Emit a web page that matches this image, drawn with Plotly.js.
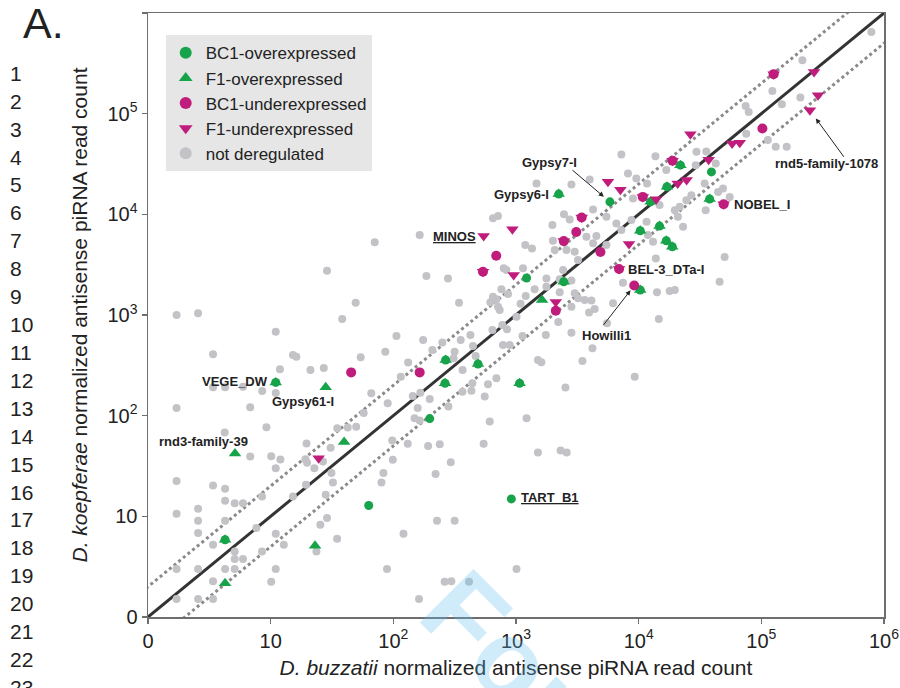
<!DOCTYPE html>
<html><head><meta charset="utf-8">
<script src="https://cdn.plot.ly/plotly-3.0.1.min.js"></script>
<style>html,body{margin:0;padding:0;background:#fff}#chart{width:900px;height:688px}</style>
</head><body><div id="chart"></div>
<script>
// ---- data (normalized antisense piRNA read counts; axis "0" = 1) ----
const grayX = [789000,216000,123000,208000,147000,74500,78900,75300,113000,131000,161000,35600,29600,42500,29200,34500,48700,44400,55200,35200,7230,13700,8180,9570,11700,16800,8990,14800,19700,21600,24500,26900,20900,23000,5460,6580,8730,11600,7230,11900,13100,5460,13800,50200,45700,7450,14100,17900,19700,14600,6180,5520,3940,4380,3200,3630,4120,3010,4200,3480,9290,3990,2830,4250,2740,2460,1980,1470,649,713,164,3750,4520,4250,2000,1190,1350,2070,2580,3010,3200,2420,186,279,794,836,1140,1770,2270,2830,343,760,861,1200,1420,1770,2270,649,692,618,713,1090,2830,736,2210,1010,774,845,106,175,425,643,1130,1750,2830,251,354,446,783,889,86,208,316,310,469,132,115,367,441,366,433,591,692,1510,1610,2530,90,144,166,198,158,281,556,149,164,611,1220,98,131,192,239,545,99,294,83,80,221,1510,2310,2590,227,316,297,414,1010,70.5,28.8,49.3,1.71,2.56,38.3,11.0,3.39,15.2,16.2,54.2,11.9,21.1,27.1,3.39,4.25,5.95,8.53,11.0,66.1,1.71,6.81,57.3,4.22,9.23,19.6,30.8,34.9,42.5,49.8,6.81,10.1,12.0,19.2,19.8,26.7,22.7,11.0,1.71,1.71,1.71,1.71,3.39,4.25,4.25,2.56,2.56,2.56,2.56,2.56,3.39,3.39,3.39,4.25,4.25,5.09,5.95,5.09,5.09,5.95,5.09,8.50,7.65,8.50,15.2,11.0,11.0,10.1,12.8,23.6,25.4,28.8,28.1,31.3,32.2,34.8,88.8,121,162,262,19.4];
const grayY = [649000,340000,168000,145000,124000,119000,104000,63200,54600,46800,46800,42000,41800,32000,30800,20300,18100,16700,14900,11000,39400,37800,25500,22700,20300,27500,14400,12400,11000,11900,13800,15500,9460,7520,9460,8130,8770,8430,6980,6220,5340,4950,3640,3770,2140,2090,1680,1730,1770,912,1310,828,1060,1150,1470,1410,1390,1640,468,350,244,22200,19800,11200,8910,10000,7820,20300,9120,9600,6220,5980,6080,5150,5460,4950,4590,4420,4420,4250,3520,2800,2440,2310,2910,2800,2910,2310,2260,2200,1320,1800,1620,1540,1800,1910,1680,1520,1430,1340,1210,1290,1210,1120,853,962,796,721,619,565,634,710,619,634,667,533,565,492,504,504,432,450,432,372,392,338,243,284,210,173,177,205,235,357,340,190,133,157,169,146,119,123,155,94.4,89.3,87.3,94.4,56.6,52.5,50.1,52.1,52.5,36.4,34.4,26.9,21.7,26.4,43.0,45.0,43.0,9.03,9.03,2.26,2.24,2.99,5270,2750,1320,1000,1040,912,682,407,401,385,380,289,284,298,192,192,194,176,168,167,119,121,106,67.9,76.9,52.8,47.9,74.8,76.5,77.4,39.3,39.6,36.6,37.0,34.0,35.0,30.1,30.1,22.5,10.6,2.99,1.51,20.2,18.8,14.3,11.9,9.03,6.82,2.99,1.51,5.22,2.26,1.51,9.03,2.99,13.5,13.5,4.48,3.77,3.77,2.99,15.7,7.64,4.48,15.7,6.71,2.99,2.24,5.22,4.48,8.24,9.60,16.4,26.9,21.7,5.98,2.99,6.71,1.51,2.24,20.6];

const bc1OverX = [11.0,4.25,2230,21900,17000,12500,37900,10300,14800,16800,18800,2450,10300,267,490,264,1070,5830,39200,1220,198,63.0,917];
const bc1OverY = [214,5.85,15900,30800,18800,13300,14200,6870,7640,5460,4760,2140,1770,357,326,210,210,13300,26400,2330,93.5,12.8,14.9];

const f1OverX = [11.0,4.25,2230,21900,17000,12500,37900,10300,14800,16800,18800,2450,10300,267,490,264,1070,28.1,5.12,39.7,4.25,23.0,1630];
const f1OverY = [214,5.85,15900,30800,18800,13300,14200,6870,7640,5460,4760,2140,1770,357,326,210,210,192,42.0,54.9,2.17,5.10,1410];

const bc1UnderX = [126000,18900,10800,49300,6920,538,2450,3430,102000,3100,690,4880,9200,45.3,164,2110];
const bc1UnderY = [247000,34100,14900,12600,2860,2690,5420,9290,71300,6670,3880,4220,1960,269,269,1100];

const f1UnderX = [126000,18900,10800,49300,6920,538,2450,3430,935,13900,37200,5620,7100,20800,24600,26400,57800,66700,269000,290000,249000,545,958,8340,24.6,2110];
const f1UnderY = [247000,34100,14900,12600,2860,2690,5420,9290,7100,14100,34900,21100,17500,20300,21900,62500,50400,51300,260000,152000,108000,6080,2490,5070,37.7,1350];

const seriesNames = ['BC1-overexpressed','F1-overexpressed','BC1-underexpressed','F1-underexpressed','not deregulated'];
const foldChange = 2;
const axisRange = [1, 1e6];
const tickVals = [1,10,100,1000,10000,100000,1000000];
const tickText = ['0','10','10<sup>2</sup>','10<sup>3</sup>','10<sup>4</sup>','10<sup>5</sup>','10<sup>6</sup>'];

// named elements: [label, series, index]
const tagNames = ['Gypsy7-I','Gypsy6-I','MINOS','NOBEL_I','rnd5-family-1078','BEL-3_DTa-I','Howilli1','VEGE_DW','Gypsy61-I','rnd3-family-39','TART_B1'];
const tagSeries = ['bc1Over','bc1Over','f1Under','bc1Under','f1Under','bc1Under','bc1Under','bc1Over','f1Over','f1Over','bc1Over'];
const tagIndex = [17,2,21,3,20,4,12,0,17,18,22];

const lineNumbers = Array.from({length:23},(_, k)=>String(k+1));

// ---- styling ----
const GREEN = '#17a34a', MAG = '#c01c7c', GRAY = '#c3c3c7';
const FONT = 'Liberation Sans, Arial, Helvetica, sans-serif';
const series = {
  bc1Over:{x:bc1OverX,y:bc1OverY}, f1Over:{x:f1OverX,y:f1OverY},
  bc1Under:{x:bc1UnderX,y:bc1UnderY}, f1Under:{x:f1UnderX,y:f1UnderY}
};
const tagStyle = {
  'Gypsy7-I':{xshift:-60,yshift:39,arrow:{ax:-39,ay:-33,standoff:8}},
  'Gypsy6-I':{xanchor:'right',xshift:-8,yshift:0},
  'MINOS':{xanchor:'right',xshift:-6,yshift:0,underline:true},
  'NOBEL_I':{xanchor:'left',xshift:8,yshift:0},
  'rnd5-family-1078':{xshift:17,yshift:-53,arrow:{ax:35,ay:48,standoff:10}},
  'BEL-3_DTa-I':{xanchor:'left',xshift:7,yshift:0},
  'Howilli1':{xshift:-28,yshift:-50,arrow:{ax:-32,ay:41,standoff:6}},
  'VEGE_DW':{xanchor:'right',xshift:-6,yshift:1},
  'Gypsy61-I':{xshift:-23,yshift:-14},
  'rnd3-family-39':{xshift:-32,yshift:12},
  'TART_B1':{xanchor:'left',xshift:8,yshift:1,underline:true}
};

const lx0 = Math.log10(axisRange[0]) - 1, lx1 = Math.log10(axisRange[1]) + 1;
const lineX = [Math.pow(10,lx0), Math.pow(10,lx1)];

const traces = [
  {x:lineX, y:lineX.map(v=>v*foldChange), mode:'lines', line:{color:'#8a8a8a',width:3,dash:'dot'}, showlegend:false, hoverinfo:'skip'},
  {x:lineX, y:lineX.map(v=>v/foldChange), mode:'lines', line:{color:'#8a8a8a',width:3,dash:'dot'}, showlegend:false, hoverinfo:'skip'},
  {x:lineX, y:lineX, mode:'lines', line:{color:'#333333',width:3}, showlegend:false, hoverinfo:'skip'},
  {x:grayX, y:grayY, name:seriesNames[4], legendrank:5, mode:'markers', type:'scatter',
   marker:{symbol:'circle',size:8,color:GRAY,line:{width:0}}},
  {x:bc1OverX, y:bc1OverY, name:seriesNames[0], legendrank:1, mode:'markers', type:'scatter',
   marker:{symbol:'circle',size:9,color:GREEN,line:{width:0}}},
  {x:f1OverX, y:f1OverY, name:seriesNames[1], legendrank:2, mode:'markers', type:'scatter',
   marker:{symbol:'triangle-up',size:11,color:GREEN,line:{width:0}}},
  {x:bc1UnderX, y:bc1UnderY, name:seriesNames[2], legendrank:3, mode:'markers', type:'scatter',
   marker:{symbol:'circle',size:10,color:MAG,line:{width:0}}},
  {x:f1UnderX, y:f1UnderY, name:seriesNames[3], legendrank:4, mode:'markers', type:'scatter',
   marker:{symbol:'triangle-down',size:11,color:MAG,line:{width:0}}}
];

const annotations = [];
tagNames.forEach((name,k)=>{
  const s = series[tagSeries[k]], i = tagIndex[k], st = tagStyle[name];
  const px = Math.log10(s.x[i]), py = Math.log10(s.y[i]);
  if (st.arrow) {
    annotations.push({x:px,y:py,xref:'x',yref:'y',text:'',showarrow:true,ax:st.arrow.ax,ay:st.arrow.ay,
      arrowhead:2,arrowsize:1,arrowwidth:1,arrowcolor:'#222',standoff:st.arrow.standoff});
  }
  annotations.push({x:px,y:py,xref:'x',yref:'y',showarrow:false,
    text: st.underline ? '<u>'+name+'</u>' : name,
    xanchor: st.xanchor || 'center', yanchor:'middle', xshift:st.xshift, yshift:st.yshift,
    font:{family:FONT,size:13,color:'#222',weight:700}});
});

// page furniture: line numbers, panel letter, watermark
const W = 736, H = 604.6, L = 148.3, T = 12.7;
const pxX = p => (p - L)/W, pxY = p => (T + H - p)/H;
lineNumbers.forEach((t,k)=>{
  annotations.push({xref:'paper',yref:'paper',x:pxX(8),y:pxY(73+k*27.95),xanchor:'left',yanchor:'middle',
    text:t,showarrow:false,font:{family:FONT,size:21,color:'#222'}});
});
annotations.push({xref:'paper',yref:'paper',x:pxX(21),y:pxY(23),xanchor:'left',yanchor:'middle',
  text:'A.',showarrow:false,font:{family:FONT,size:43,color:'#222'}});
annotations.push({xref:'paper',yref:'paper',x:pxX(747),y:pxY(895),xanchor:'center',yanchor:'middle',
  text:'For Review Only',textangle:45,showarrow:false,font:{family:FONT,size:110,color:'rgba(100,190,235,0.3)',weight:700}});

const axisCommon = {
  type:'log', range:[0,6], tickmode:'array', tickvals:tickVals, ticktext:tickText,
  showgrid:false, zeroline:false, showline:true, mirror:true, linecolor:'#6e6e6e', linewidth:1.5,
  ticks:'outside', ticklen:5, tickwidth:1.5, tickcolor:'#6e6e6e',
  tickfont:{family:FONT,size:20,color:'#222'}
};

const layout = {
  width:900, height:688, margin:{l:148,r:16,t:13,b:71,autoexpand:false},
  paper_bgcolor:'#fff', plot_bgcolor:'#fff', font:{family:FONT,color:'#222'},
  xaxis:Object.assign({}, axisCommon, {title:{text:'<i>D. buzzatii</i> normalized antisense piRNA read count',
    font:{family:FONT,size:21,color:'#222'}, standoff:10}}),
  yaxis:Object.assign({}, axisCommon, {title:{text:'<i>D. koepferae</i> normalized antisense piRNA read count',
    font:{family:FONT,size:21,color:'#222'}, standoff:14}}),
  legend:{x:pxX(166),y:pxY(35),xanchor:'left',yanchor:'top',bgcolor:'#e6e6e6',borderwidth:0,
    font:{family:FONT,size:17,color:'#222'},itemsizing:'constant',traceorder:'normal'},
  annotations:annotations,
  showlegend:true
};

Plotly.newPlot('chart', traces, layout, {displayModeBar:false, staticPlot:true});
</script></body></html>
